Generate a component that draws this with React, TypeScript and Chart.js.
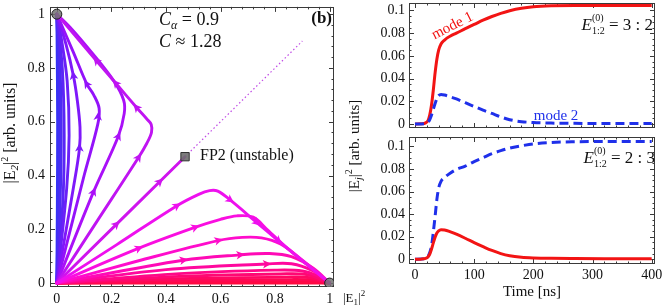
import React, { useEffect, useRef } from "react";
import { Chart, registerables } from "chart.js";

Chart.register(...registerables);

const SERIF = '"Liberation Serif", "Times New Roman", Times, serif';

// ================= Left panel: phase portrait =================
const phaseTicks = [0, 0.2, 0.4, 0.6, 0.8, 1];

// trajectories that end in (0,1)
const flowU1 = [[0, 0], [0.002, 0.3], [0.003, 0.6], [0.001, 0.9], [0, 1]];
const flowU2 = [[0, 0], [0.006, 0.3], [0.008, 0.55], [0.006, 0.8], [0, 1]];
const flowU3 = [[0, 0], [0.012, 0.3], [0.016, 0.55], [0.012, 0.8], [0, 1]];
const flowU4 = [[0, 0], [0.022, 0.3], [0.027, 0.55], [0.02, 0.8], [0, 1]];
const flowU5 = [[0, 0], [0.036, 0.35], [0.045, 0.55], [0.038, 0.75], [0.018, 0.9], [0, 1]];
const flowU6 = [[0, 0], [0.06, 0.35], [0.083, 0.5], [0.085, 0.58], [0.075, 0.68], [0.061, 0.77], [0.033, 0.89], [0, 1]];
const flowU7 = [[0, 0], [0.1, 0.4], [0.15, 0.59], [0.155, 0.65], [0.135, 0.7], [0.11, 0.74], [0.06, 0.86], [0, 1]];
const flowU8 = [[0, 0], [0.134, 0.338], [0.225, 0.545], [0.247, 0.63], [0.245, 0.68], [0.21, 0.75], [0.13, 0.855], [0.05, 0.95], [0, 1]];
const flowU9 = [[0, 0], [0.15, 0.234], [0.3, 0.468], [0.33, 0.52], [0.347, 0.56], [0.346, 0.59], [0.33, 0.61], [0.293, 0.652], [0.217, 0.742], [0.146, 0.826], [0.07, 0.917], [0, 1]];
const flowDiag = [[0, 0], [0.47, 0.47]];
// trajectories that end in (1,0)
const flowL1 = [[0, 0], [0.22, 0.143], [0.439, 0.287], [0.52, 0.33], [0.56, 0.344], [0.59, 0.342], [0.634, 0.31], [0.732, 0.226], [0.811, 0.158], [0.9, 0.083], [1, 0]];
const flowL2 = [[0, 0], [0.299, 0.129], [0.506, 0.207], [0.6, 0.237], [0.66, 0.25], [0.72, 0.245], [0.77, 0.2], [0.85, 0.125], [1, 0]];
const flowL3 = [[0, 0], [0.3, 0.083], [0.591, 0.158], [0.68, 0.17], [0.75, 0.168], [0.82, 0.145], [0.9, 0.085], [1, 0]];
const flowL4 = [[0, 0], [0.463, 0.085], [0.671, 0.105], [0.78, 0.11], [0.86, 0.098], [0.94, 0.055], [1, 0]];
const flowL5 = [[0, 0], [0.4, 0.05], [0.768, 0.071], [0.86, 0.072], [0.94, 0.045], [1, 0]];
const flowL6 = [[0, 0], [0.45, 0.035], [0.8, 0.048], [0.9, 0.045], [0.96, 0.025], [1, 0]];
const flowL7 = [[0, 0], [0.45, 0.025], [0.82, 0.034], [0.92, 0.031], [1, 0]];
const flowL8 = [[0, 0], [0.45, 0.016], [0.84, 0.022], [0.93, 0.02], [1, 0]];
const flowL9 = [[0, 0], [0.45, 0.009], [0.86, 0.013], [0.94, 0.011], [1, 0]];
const flowL10 = [[0, 0], [0.5, 0.004], [0.88, 0.006], [1, 0]];
const flowL11 = [[0, 0], [1, 0]];

// arrow positions on the trajectories
const arrowsU6 = [[0.083, 0.502], [0.061, 0.77]];
const arrowsU7 = [[0.151, 0.618], [0.11, 0.739]];
const arrowsU8 = [[0.134, 0.338], [0.225, 0.545]];
const arrowsU9 = [[0.299, 0.466], [0.293, 0.652], [0.217, 0.742], [0.146, 0.826]];
const arrowsDiag = [[0.217, 0.217], [0.376, 0.376]];
const arrowsL1 = [[0.439, 0.287], [0.634, 0.31], [0.732, 0.226], [0.811, 0.158]];
const arrowsL2 = [[0.299, 0.129], [0.506, 0.207]];
const arrowsL3 = [[0.591, 0.158]];
const arrowsL4 = [[0.463, 0.085], [0.671, 0.105]];
const arrowsL5 = [[0.768, 0.071]];

const fixedPointsStable = [[0, 1], [1, 0]];
const fixedPointUnstable = [[0.47, 0.47]];
const unstableGuide = [[0.47, 0.47], [0.9, 0.9]];

// ================= Right panels: time traces =================
const timeTicks = [0, 100, 200, 300, 400];
const powerTicks = [0, 0.02, 0.04, 0.06, 0.08, 0.1];
const timeNs = [0, 10, 18, 22, 25, 28, 31, 34, 37, 40, 44, 50, 60, 70, 85, 100, 115, 130, 145, 160, 180, 200, 230, 270, 320, 400];
const mode1Top = [0, 0.0002, 0.001, 0.003, 0.008, 0.017, 0.03, 0.045, 0.057, 0.065, 0.0705, 0.074, 0.0775, 0.08, 0.084, 0.0877, 0.0915, 0.0947, 0.0975, 0.0998, 0.102, 0.1033, 0.1041, 0.1044, 0.1044, 0.1044];
const mode2Top = [0, 0.0001, 0.0006, 0.0015, 0.004, 0.008, 0.013, 0.018, 0.0225, 0.025, 0.026, 0.0255, 0.0238, 0.0221, 0.0188, 0.0155, 0.0122, 0.0093, 0.0063, 0.0038, 0.0021, 0.0013, 0.0008, 0.0006, 0.0005, 0.0005];
const mode1Bottom = [0, 0.0001, 0.0007, 0.002, 0.0045, 0.009, 0.0145, 0.0195, 0.0232, 0.0252, 0.0262, 0.026, 0.0243, 0.0222, 0.0186, 0.0148, 0.0112, 0.0078, 0.005, 0.0031, 0.0018, 0.0012, 0.0008, 0.0006, 0.0005, 0.0005];
const mode2Bottom = [0, 0.0002, 0.0008, 0.0025, 0.006, 0.012, 0.024, 0.038, 0.053, 0.063, 0.069, 0.0725, 0.0765, 0.0795, 0.0825, 0.0865, 0.09, 0.0935, 0.0962, 0.0985, 0.1005, 0.1022, 0.1035, 0.1041, 0.1043, 0.1044];

// ================= helpers =================
type Part = { t: string; f: string; dy?: number; stack?: boolean };

function drawRich(ctx: CanvasRenderingContext2D, x: number, y: number, parts: Part[], align: string) {
  const widths = parts.map((p) => {
    ctx.font = p.f;
    return ctx.measureText(p.t).width;
  });
  let total = 0;
  for (let i = 0; i < parts.length; i++) {
    if (parts[i].stack) {
      total += Math.max(widths[i], widths[i + 1]);
      i++;
    } else total += widths[i];
  }
  let cx = align === "center" ? x - total / 2 : align === "right" ? x - total : x;
  ctx.textAlign = "left";
  ctx.textBaseline = "alphabetic";
  for (let i = 0; i < parts.length; i++) {
    const p = parts[i];
    ctx.font = p.f;
    ctx.fillText(p.t, cx, y + (p.dy || 0));
    if (p.stack) {
      const q = parts[i + 1];
      ctx.font = q.f;
      ctx.fillText(q.t, cx, y + (q.dy || 0));
      cx += Math.max(widths[i], widths[i + 1]);
      i++;
    } else cx += widths[i];
  }
}

function subdivide(ticks: number[], n: number) {
  const out: number[] = [];
  for (let i = 0; i < ticks.length - 1; i++) {
    for (let k = 1; k < n; k++) out.push(ticks[i] + ((ticks[i + 1] - ticks[i]) * k) / n);
  }
  return out;
}

function framePlugin(xT: number[], xSub: number, yT: number[], ySub: number) {
  return {
    id: "frame",
    beforeDatasetsDraw(chart: any) {
      const { ctx, chartArea: a, scales } = chart;
      const xs = scales.x;
      const ys = scales.y;
      ctx.save();
      ctx.strokeStyle = "#3a3a3a";
      ctx.lineWidth = 1;
      ctx.strokeRect(Math.round(a.left) + 0.5, Math.round(a.top) + 0.5, Math.round(a.right - a.left) - 1, Math.round(a.bottom - a.top) - 1);
      ctx.beginPath();
      const mark = (vals: number[], len: number) => {
        for (const v of vals) {
          const px = Math.round(xs.getPixelForValue(v)) + 0.5;
          ctx.moveTo(px, a.bottom);
          ctx.lineTo(px, a.bottom - len);
          ctx.moveTo(px, a.top);
          ctx.lineTo(px, a.top + len);
        }
      };
      const markY = (vals: number[], len: number) => {
        for (const v of vals) {
          const py = Math.round(ys.getPixelForValue(v)) + 0.5;
          ctx.moveTo(a.left, py);
          ctx.lineTo(a.left + len, py);
          ctx.moveTo(a.right, py);
          ctx.lineTo(a.right - len, py);
        }
      };
      mark(xT, 5);
      mark(subdivide(xT, xSub), 2.5);
      markY(yT, 5);
      markY(subdivide(yT, ySub), 2.5);
      ctx.stroke();
      ctx.restore();
    },
  };
}

function axisOpts(min: number, max: number, ticks: number[], fit: (s: any) => void, showLabels: boolean, pad: number) {
  return {
    type: "linear",
    min,
    max,
    afterBuildTicks: (s: any) => {
      s.ticks = ticks.map((v) => ({ value: v }));
    },
    afterFit: fit,
    grid: { display: false, drawTicks: false },
    border: { display: false },
    ticks: {
      display: showLabels,
      autoSkip: false,
      maxRotation: 0,
      padding: pad,
      color: "#111",
      font: { family: SERIF, size: 14 },
      callback: (v: any) => String(v),
    },
  };
}

export default function App() {
  const leftRef = useRef<HTMLCanvasElement>(null);
  const topRef = useRef<HTMLCanvasElement>(null);
  const botRef = useRef<HTMLCanvasElement>(null);

  useEffect(() => {
    // ---------- left chart ----------
    const upper = [flowU1, flowU2, flowU3, flowU4, flowU5, flowU6, flowU7, flowU8, flowU9, flowDiag];
    const upperColors = ["#3434f4", "#4030f4", "#4c2cf4", "#5a26f6", "#6a20f8", "#7e18fa", "#9412fa", "#aa10f8", "#c014f2", "#d014ee"];
    const upperArrows = [null, null, null, null, null, arrowsU6, arrowsU7, arrowsU8, arrowsU9, arrowsDiag];
    const lower = [flowL11, flowL10, flowL9, flowL8, flowL7, flowL6, flowL5, flowL4, flowL3, flowL2, flowL1];
    const lowerColors = ["#ff083c", "#ff0846", "#ff0852", "#ff0862", "#ff0874", "#ff0888", "#ff089e", "#ff0ab6", "#ff0ccc", "#fa0ee0", "#ee10ee"];
    const lowerArrows = [null, null, null, null, null, null, arrowsL5, arrowsL4, arrowsL3, arrowsL2, arrowsL1];

    const flows = [...upper, ...lower];
    const flowColors = [...upperColors, ...lowerColors];
    const flowArrows = [...upperArrows, ...lowerArrows];

    const seq: any[] = [];
    flows.forEach((f, i) => {
      seq.push({
        data: f.map(([x, y]) => ({ x, y })),
        showLine: true,
        borderColor: flowColors[i],
        borderWidth: 2.9,
        pointRadius: 0,
        tension: 0.35,
        borderCapStyle: "round",
        borderJoinStyle: "round",
        _arrows: flowArrows[i],
      });
    });
    seq.push({
      data: unstableGuide.map(([x, y]) => ({ x, y })),
      showLine: true,
      borderColor: "#c04ae6",
      borderWidth: 1.2,
      borderDash: [1.5, 2.5],
      pointRadius: 0,
    });
    seq.push({
      data: fixedPointsStable.map(([x, y]) => ({ x, y })),
      showLine: false,
      pointStyle: "circle",
      pointRadius: 5,
      backgroundColor: "rgba(115,115,115,0.85)",
      borderColor: "#222",
      borderWidth: 1,
    });
    seq.push({
      data: fixedPointUnstable.map(([x, y]) => ({ x, y })),
      showLine: false,
      pointStyle: "rect",
      pointRadius: 5.9,
      backgroundColor: "rgba(110,110,110,0.9)",
      borderColor: "#333",
      borderWidth: 1,
    });
    seq.forEach((d, i) => (d.order = seq.length - i));

    const arrowPlugin = {
      id: "arrows",
      afterDatasetsDraw(chart: any) {
        const { ctx, scales } = chart;
        const xs = scales.x;
        const ys = scales.y;
        ctx.save();
        chart.data.datasets.forEach((ds: any) => {
          if (!ds._arrows) return;
          const pts = ds.data.map((p: any) => [xs.getPixelForValue(p.x), ys.getPixelForValue(p.y)]);
          for (const [ax, ay] of ds._arrows) {
            const px = xs.getPixelForValue(ax);
            const py = ys.getPixelForValue(ay);
            let best = 1e9;
            let dir = [1, 0];
            for (let i = 0; i < pts.length - 1; i++) {
              const [x1, y1] = pts[i];
              const [x2, y2] = pts[i + 1];
              const dx = x2 - x1;
              const dy = y2 - y1;
              const L2 = dx * dx + dy * dy || 1;
              let t = ((px - x1) * dx + (py - y1) * dy) / L2;
              t = Math.max(0, Math.min(1, t));
              const qx = x1 + t * dx - px;
              const qy = y1 + t * dy - py;
              const d = qx * qx + qy * qy;
              if (d < best) {
                best = d;
                const L = Math.sqrt(L2);
                dir = [dx / L, dy / L];
              }
            }
            const [ux, uy] = dir;
            const nx = -uy;
            const ny = ux;
            ctx.fillStyle = ds.borderColor;
            ctx.beginPath();
            ctx.moveTo(px + ux * 5, py + uy * 5);
            ctx.lineTo(px - ux * 3.5 + nx * 4.3, py - uy * 3.5 + ny * 4.3);
            ctx.lineTo(px - ux * 1.2, py - uy * 1.2);
            ctx.lineTo(px - ux * 3.5 - nx * 4.3, py - uy * 3.5 - ny * 4.3);
            ctx.closePath();
            ctx.fill();
          }
        });
        ctx.restore();
      },
    };

    const leftText = {
      id: "leftText",
      afterDraw(chart: any) {
        const ctx = chart.ctx as CanvasRenderingContext2D;
        ctx.save();
        ctx.fillStyle = "#111";
        const it = `italic 18px ${SERIF}`;
        const rg = `18px ${SERIF}`;
        drawRich(ctx, 159, 25, [
          { t: "C", f: it },
          { t: "α", f: `italic 12px ${SERIF}`, dy: 4 },
          { t: " = 0.9", f: rg },
        ], "left");
        drawRich(ctx, 159, 47, [
          { t: "C", f: it },
          { t: " ≈ 1.28", f: rg },
        ], "left");
        drawRich(ctx, 332, 23, [{ t: "(b)", f: `bold 17px ${SERIF}` }], "right");
        drawRich(ctx, 200, 160, [{ t: "FP2 (unstable)", f: `16px ${SERIF}` }], "left");
        // x title of the phase portrait
        drawRich(ctx, 343, 302, [
          { t: "|E", f: `13px ${SERIF}` },
          { t: "1", f: `9px ${SERIF}`, dy: 3 },
          { t: "|", f: `13px ${SERIF}` },
          { t: "2", f: `9px ${SERIF}`, dy: -6 },
        ], "left");
        // y title of phase portrait
        ctx.save();
        ctx.translate(15, 133);
        ctx.rotate(-Math.PI / 2);
        drawRich(ctx, 0, 0, [
          { t: "|E", f: `16px ${SERIF}` },
          { t: "2", f: `italic 11px ${SERIF}`, dy: 3 },
          { t: "|", f: `16px ${SERIF}` },
          { t: "2", f: `10px ${SERIF}`, dy: -7 },
          { t: " [arb. units]", f: `16px ${SERIF}` },
        ], "center");
        ctx.restore();
        // shared y title of right panels
        ctx.save();
        ctx.translate(359, 146);
        ctx.rotate(-Math.PI / 2);
        drawRich(ctx, 0, 0, [
          { t: "|E", f: `15px ${SERIF}` },
          { t: "j", f: `italic 10px ${SERIF}`, dy: 3 },
          { t: "|", f: `15px ${SERIF}` },
          { t: "2", f: `10px ${SERIF}`, dy: -7 },
          { t: " [arb. units]", f: `15px ${SERIF}` },
        ], "center");
        ctx.restore();
        ctx.restore();
      },
    };

    const left = new Chart(leftRef.current as HTMLCanvasElement, {
      type: "scatter",
      data: { datasets: seq },
      options: {
        animation: false,
        responsive: false,
        layout: { padding: { left: 0, top: 1, right: 46, bottom: 0 } },
        plugins: { legend: { display: false }, tooltip: { enabled: false } },
        scales: {
          x: axisOpts(-0.025, 1.016, phaseTicks, (s: any) => { s.height = 20; s.paddingLeft = 0; s.paddingRight = 0; }, true, 4) as any,
          y: axisOpts(-0.0146, 1.027, phaseTicks, (s: any) => { s.width = 50; s.paddingTop = 0; s.paddingBottom = 0; }, true, 5) as any,
        },
      } as any,
      plugins: [framePlugin(phaseTicks, 5, phaseTicks, 5), arrowPlugin, leftText],
    });

    // ---------- right charts ----------
    const series = (vals: number[], color: string, dashed: boolean, order: number) => ({
      data: timeNs.map((t, i) => ({ x: t, y: vals[i] })),
      showLine: true,
      borderColor: color,
      borderWidth: 3,
      borderDash: dashed ? [9, 5] : [],
      pointRadius: 0,
      cubicInterpolationMode: "monotone",
      order,
    });
    const RED = "#f21414";
    const BLUE = "#1f30ea";

    const ratioLabel = (ctx: CanvasRenderingContext2D, x: number, y: number, ratio: string) => {
      drawRich(ctx, x, y, [
        { t: "E", f: `italic 17px ${SERIF}` },
        { t: "(0)", f: `10px ${SERIF}`, dy: -9, stack: true },
        { t: "1:2", f: `10px ${SERIF}`, dy: 4 },
        { t: " = " + ratio, f: `17px ${SERIF}` },
      ], "right");
    };

    const topText = {
      id: "topText",
      afterDraw(chart: any) {
        const ctx = chart.ctx as CanvasRenderingContext2D;
        ctx.save();
        ctx.fillStyle = RED;
        ctx.translate(112, 25);
        ctx.rotate((-27 * Math.PI) / 180);
        drawRich(ctx, 0, 5, [{ t: "mode 1", f: `15px ${SERIF}` }], "center");
        ctx.restore();
        ctx.save();
        ctx.fillStyle = BLUE;
        drawRich(ctx, 216, 120, [{ t: "mode 2", f: `15px ${SERIF}` }], "center");
        ctx.fillStyle = "#111";
        ratioLabel(ctx, 313, 30, "3 : 2");
        ctx.restore();
      },
    };
    const botText = {
      id: "botText",
      afterDraw(chart: any) {
        const ctx = chart.ctx as CanvasRenderingContext2D;
        ctx.save();
        ctx.fillStyle = "#111";
        ratioLabel(ctx, 315, 27, "2 : 3");
        ctx.restore();
      },
    };

    const top = new Chart(topRef.current as HTMLCanvasElement, {
      type: "scatter",
      data: { datasets: [series(mode1Top, RED, false, 1), series(mode2Top, BLUE, true, 0)] },
      options: {
        animation: false,
        responsive: false,
        layout: { padding: { left: 0, top: 3, right: 9, bottom: 0 } },
        plugins: { legend: { display: false }, tooltip: { enabled: false } },
        scales: {
          x: axisOpts(-10.1, 405.6, timeTicks, (s: any) => { s.height = 8; s.paddingLeft = 0; s.paddingRight = 0; }, false, 3) as any,
          y: axisOpts(-0.0035, 0.1066, powerTicks, (s: any) => { s.width = 69; s.paddingTop = 0; s.paddingBottom = 0; }, true, 4) as any,
        },
      } as any,
      plugins: [framePlugin(timeTicks, 5, powerTicks, 4), topText],
    });

    const xBot: any = axisOpts(-10.1, 405.6, timeTicks, (s: any) => { s.height = 43; s.paddingLeft = 0; s.paddingRight = 0; }, true, 3);
    xBot.title = { display: true, text: "Time [ns]", color: "#111", font: { family: SERIF, size: 15 }, padding: { top: 0, bottom: 6 } };
    const bot = new Chart(botRef.current as HTMLCanvasElement, {
      type: "scatter",
      data: { datasets: [series(mode2Bottom, BLUE, true, 1), series(mode1Bottom, RED, false, 0)] },
      options: {
        animation: false,
        responsive: false,
        layout: { padding: { left: 0, top: 1, right: 9, bottom: 0 } },
        plugins: { legend: { display: false }, tooltip: { enabled: false } },
        scales: {
          x: xBot,
          y: axisOpts(-0.0042, 0.1083, powerTicks, (s: any) => { s.width = 69; s.paddingTop = 0; s.paddingBottom = 0; }, true, 4) as any,
        },
      } as any,
      plugins: [framePlugin(timeTicks, 5, powerTicks, 4), botText],
    });

    return () => {
      left.destroy();
      top.destroy();
      bot.destroy();
    };
  }, []);

  return (
    <div style={{ position: "absolute", left: 0, top: 0, width: 664, height: 307, background: "#fff", overflow: "hidden" }}>
      <canvas ref={leftRef} width={380} height={307} style={{ position: "absolute", left: 0, top: 0, width: 380, height: 307 }} />
      <canvas ref={topRef} width={324} height={136} style={{ position: "absolute", left: 340, top: 0, width: 324, height: 136 }} />
      <canvas ref={botRef} width={324} height={171} style={{ position: "absolute", left: 340, top: 136, width: 324, height: 171 }} />
    </div>
  );
}
